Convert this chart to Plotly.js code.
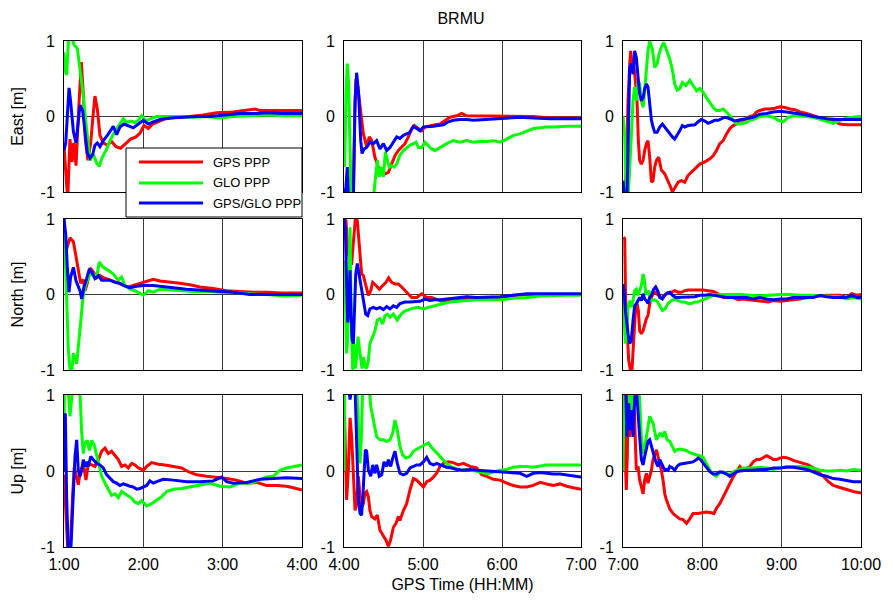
<!DOCTYPE html>
<html><head><meta charset="utf-8">
<script src="https://cdn.plot.ly/plotly-3.0.1.min.js"></script>
<style>html,body{margin:0;padding:0;background:#fff;}#chart{width:893px;height:600px;}</style>
</head><body><div id="chart"></div>
<script>
// ---- labels ----
const chartTitle = 'BRMU';
const seriesNames = ['GPS PPP', 'GLO PPP', 'GPS/GLO PPP'];
const seriesColors = ['#ff0000', '#00ff00', '#0000ff'];
const rowLabels = ['East [m]', 'North [m]', 'Up [m]'];
const xAxisLabel = 'GPS Time (HH:MM)';
const colRanges = [[60, 240], [240, 420], [420, 600]];          // minutes of day
const xTickVals = [[60, 120, 180, 240], [240, 300, 360, 420], [420, 480, 540, 600]];
const xTickText = [['1:00', '2:00', '3:00', '4:00'], ['4:00', '5:00', '6:00', '7:00'], ['7:00', '8:00', '9:00', '10:00']];
const yTickVals = [-1, 0, 1];
const yTickText = ['-1', '0', '1'];

// ---- data: time (minutes of day) and error (m) ----
// Column 1: 1:00 - 4:00
const E1_t_GPS = [60,62.8,64.5,66.1,67.3,69.1,71.1,73.1,74.6,76.1,78.1,80.2,81.9,83.4,85.2,87.2,89.7,92.8,96,99.3,102.8,106.9,110.4,114.4,117.5,120.5,123.8,127,131.3,136.4,145.2,155.3,165.3,175.4,188,198.1,204.4,208.2,220.8,230.9,240];
const E1_GPS = [-0.4,-1.1,-0.3,-0.6,-0.35,-0.65,0.1,0.72,0.3,-0.3,-0.58,-0.35,0,0.27,0.1,-0.25,-0.35,-0.38,-0.33,-0.4,-0.42,-0.36,-0.3,-0.27,-0.22,-0.12,-0.16,-0.1,-0.07,-0.03,-0.01,0,0.02,0.05,0.06,0.08,0.1,0.08,0.08,0.08,0.08];
const E1_t_GLO = [60,61,62,63.5,65.8,67.6,70.1,72.1,74.1,76.1,78.1,79.7,82.2,84.7,86.7,88.7,91.8,94.8,97.8,100.3,102.8,104.9,107.4,110.4,113.7,116.2,118.7,122,125.5,130,137.6,147.7,157.8,167.9,177.9,188,200.6,213.2,225.8,240];
const E1_GLO = [0.85,0.6,0.55,1.05,1.05,0.95,0.9,0.65,0.35,0,-0.35,-0.58,-0.5,-0.62,-0.66,-0.55,-0.45,-0.32,-0.22,-0.15,-0.08,-0.03,-0.08,-0.06,-0.08,-0.05,0.01,-0.06,-0.03,0,0,0,-0.01,0,-0.02,0,0.01,0.02,0.01,0.01];
const E1_t_GG = [60,61.3,62.5,63.8,65,67.1,69.1,70.6,72.1,74.1,75.9,77.6,79.7,81.7,83.4,85.2,87.2,89.7,92.8,95.3,97.3,99.8,102.3,105.4,108.6,112.4,116.2,120,123.8,127.5,132.6,140.1,150.2,160.3,170.4,180.5,193.1,205.7,213.2,225.8,240];
const E1_GG = [-0.45,-0.35,0,0.38,0.2,-0.2,-0.35,-0.1,0.15,0.08,-0.2,-0.48,-0.55,-0.5,-0.38,-0.35,-0.4,-0.32,-0.25,-0.18,-0.13,-0.24,-0.14,-0.1,-0.12,-0.15,-0.1,-0.05,-0.1,-0.07,-0.04,-0.02,-0.01,0,0,0.02,0.04,0.04,0.05,0.04,0.04];

const N1_t_GPS = [60,62,64.5,67.1,69.1,70.8,72.6,74.6,75.9,77.6,79.7,82.2,84.7,87.2,90.2,93.5,97.3,101.1,104.9,108.6,112.4,117.5,122.5,127.5,132.6,140.1,147.7,155.3,162.8,172.9,183,193.1,203.1,213.2,225.8,240];
const N1_GPS = [0.9,0.6,0.75,0.7,0.5,0.35,0.15,0.2,0.05,0.15,0.35,0.3,0.22,0.25,0.22,0.2,0.18,0.15,0.12,0.1,0.12,0.15,0.17,0.2,0.18,0.17,0.15,0.13,0.1,0.08,0.05,0.04,0.03,0.03,0.02,0.02];
const N1_t_GLO = [60,62,63.3,64.5,65.8,67.1,68.3,69.6,70.8,72.1,73.4,74.6,76.6,79.2,82.2,84.7,86.7,89.7,93.5,97.3,101.1,103.6,106.1,109.9,113.7,117.5,120,123.8,127.5,132.6,140.1,147.7,157.8,167.9,177.9,188,200.6,213.2,225.8,240];
const N1_GLO = [1.0,-0.08,-0.74,-0.98,-1.03,-0.78,-0.83,-0.92,-0.7,-0.43,-0.21,0,0.14,0.25,0.27,0.23,0.43,0.36,0.32,0.27,0.19,0.23,0.12,0.07,0.05,0.01,-0.01,0.05,0.03,0.07,0.06,0.05,0.04,0.04,0.03,0.03,0.01,0,-0.02,-0.01];
const N1_t_GG = [60,61.3,62.5,63.8,65,67.1,69.1,70.8,72.1,73.4,75.1,77.1,79.2,80.9,83.4,86,88.5,91,94.8,98.6,102.3,106.1,109.9,115,120,127.5,135.1,142.7,152.7,162.8,175.4,188,200.6,213.2,240];
const N1_GG = [1.0,0.8,0.36,0.03,0.23,0.36,0.18,0.1,0.05,-0.06,0.1,0.21,0.34,0.3,0.21,0.25,0.19,0.19,0.19,0.16,0.15,0.11,0.09,0.11,0.12,0.12,0.1,0.09,0.07,0.06,0.04,0.03,0,0,0];

const U1_t_GPS = [60,61,62,63,64.5,65.5,66.6,67.8,69.1,70.8,72.1,74.6,76.6,78.4,80.9,83.4,86,88.5,91,93.5,96,98.6,101.1,103.6,106.1,108.6,111.2,113.7,116.2,120,122.5,126.3,131.3,136.4,142.7,149,154,160.3,167.9,175.4,183,190.5,198.1,205.7,213.2,220.8,228.3,233.4,240];
const U1_GPS = [-0.05,-0.5,-0.8,-1.1,-1.1,-0.6,-0.3,0.05,-0.05,-0.18,-0.03,0.1,-0.12,0.1,0.08,0.06,0.15,0.26,0.3,0.23,0.26,0.21,0.15,0.06,0.08,0.04,0.1,0.08,0.04,0.01,0.06,0.11,0.09,0.08,0.06,0.04,-0.01,-0.05,-0.07,-0.08,-0.1,-0.12,-0.16,-0.15,-0.19,-0.19,-0.2,-0.22,-0.25];
const U1_t_GLO = [60,60.3,63.3,64,64.5,65.8,66.6,71.6,72.3,73.4,74.6,75.9,77.6,79.2,80.9,82.9,84.7,86.7,88.5,91,93.5,96,98.6,101.1,103.6,106.1,108.6,111.2,113.7,116.2,118.7,122.5,126.3,130.1,133.8,137.6,142.7,149,155.3,162.8,170.4,177.9,185.5,193.1,200.6,208.2,213.2,218.3,223.3,228.3,233.4,240];
const U1_GLO = [0,1.05,1.05,0.8,0.72,0.95,1.1,1.1,0.95,0.5,0.23,0.37,0.4,0.27,0.4,0.34,0.21,0.06,-0.07,-0.16,-0.25,-0.32,-0.3,-0.35,-0.27,-0.3,-0.33,-0.36,-0.41,-0.43,-0.39,-0.46,-0.43,-0.39,-0.34,-0.27,-0.24,-0.23,-0.21,-0.19,-0.16,-0.2,-0.21,-0.16,-0.16,-0.12,-0.08,-0.07,0.01,0.04,0.06,0.08];
const U1_t_GG = [60,61,62,63.3,65,66.6,68.3,69.6,70.8,72.1,73.4,74.6,75.9,77.1,78.4,80.2,82.2,84.7,87.2,89.7,92.3,94.8,97.3,99.8,102.3,104.9,107.4,109.9,112.4,115,117.5,120,122.5,125,127.5,130.1,135.1,142.7,152.7,162.8,172.9,179.2,183,188,198.1,208.2,218.3,228.3,240];
const U1_GG = [0,0.76,-0.34,-1.1,-1.1,-0.43,0.19,0.41,0.01,-0.07,0.01,0.15,0.06,0.12,0.06,0.19,0.15,0.1,0.08,0.04,-0.05,-0.1,-0.14,-0.16,-0.19,-0.17,-0.19,-0.2,-0.21,-0.24,-0.23,-0.21,-0.19,-0.13,-0.16,-0.14,-0.11,-0.12,-0.14,-0.14,-0.13,-0.08,-0.14,-0.16,-0.15,-0.11,-0.1,-0.09,-0.1];

// Column 2: 4:00 - 7:00
const E2_t_GPS = [240,247.1,248.1,249.1,250.1,252.2,254.7,257.2,259.2,261,263.5,266.1,268.6,271.1,273.7,276.2,278.7,281.3,283.8,286.3,288.9,291.4,293.4,296.5,299,301.5,305.3,309.1,312.9,316.7,320.5,325.6,329.4,333.2,338.2,345.8,358.5,371.2,383.8,396.5,409.1,420];
const E2_GPS = [-1.1,-1.1,0,0.5,0.45,0.12,-0.23,-0.4,-0.27,-0.32,-0.54,-0.67,-0.71,-0.76,-0.74,-0.63,-0.52,-0.45,-0.4,-0.36,-0.27,-0.16,-0.12,-0.16,-0.19,-0.14,-0.12,-0.11,-0.1,-0.05,-0.01,0.01,0.04,0.01,0.01,0,0,0,0,-0.02,-0.02,-0.02];
const E2_t_GLO = [240,240.5,241.5,242.5,243.5,244.6,245.3,246.6,262.3,262.8,264.3,265.3,266.8,268.6,269.9,271.4,272.9,274.4,276.2,278,280,282.5,285.1,287.6,290.1,292.7,294.7,296.5,299,301.5,304.1,306.6,309.1,312.9,318,323,328.1,333.2,338.2,343.3,348.4,353.4,358.5,363.6,368.6,373.7,378.8,383.8,388.9,393.9,399,404.1,409.1,420];
const E2_GLO = [0,-0.67,0.3,0.7,0.43,-0.23,-0.98,-1.1,-1.1,-1.0,-0.76,-0.58,-0.8,-0.67,-0.8,-0.47,-0.58,-0.67,-0.65,-0.67,-0.63,-0.51,-0.45,-0.41,-0.38,-0.36,-0.34,-0.41,-0.41,-0.34,-0.38,-0.43,-0.45,-0.41,-0.36,-0.32,-0.34,-0.32,-0.34,-0.33,-0.33,-0.32,-0.34,-0.3,-0.25,-0.23,-0.19,-0.16,-0.15,-0.14,-0.14,-0.13,-0.13,-0.13];
const E2_t_GG = [240,241.5,242.5,243.5,247.1,248.4,249.6,251.1,252.7,253.7,255.2,257.2,259.7,262.3,264.8,267.3,269.9,272.4,274.9,277.5,280,282.5,285.1,287.6,290.1,292.7,295.2,297.7,300.3,304.1,307.9,311.7,315.5,319.3,323,328.1,333.2,338.2,345.8,353.4,363.6,373.7,383.8,396.5,409.1,420];
const E2_GG = [-1.1,-0.93,-0.67,-1.1,-1.1,0.21,0.58,0.3,-0.32,-0.49,-0.43,-0.41,-0.34,-0.36,-0.32,-0.43,-0.36,-0.45,-0.41,-0.34,-0.27,-0.29,-0.25,-0.23,-0.21,-0.13,-0.16,-0.19,-0.14,-0.14,-0.13,-0.12,-0.11,-0.07,-0.05,-0.04,-0.04,-0.05,-0.04,-0.03,-0.02,-0.01,-0.02,-0.03,-0.03,-0.03];

const N2_t_GPS = [240,241.5,243,244.6,245.8,247.1,248.6,250.1,251.6,253.4,254.7,256.7,258.5,260.3,261.8,264.3,266.8,269.4,271.9,273.9,276.2,278.7,281.3,283.8,286.3,288.9,291.4,295.2,299,300.8,302.8,306.6,310.4,314.2,318,323,328.1,333.2,340.8,348.4,358.5,368.6,378.8,388.9,399,409.1,420];
const N2_GPS = [1.0,0.98,0.58,0.41,0.41,0.71,1.0,0.98,0.67,0.27,0.25,0.1,-0.01,0.05,0.16,0.12,0.07,0.12,0.16,0.22,0.16,0.14,0.14,0.1,0.05,0.01,-0.04,-0.04,0.01,-0.01,-0.04,-0.04,-0.07,-0.09,-0.08,-0.06,-0.06,-0.05,-0.06,-0.04,-0.04,-0.01,0,0,0,0,0];
const N2_t_GLO = [240,240.8,241.5,242,242.8,243.8,244.6,245.3,246.1,246.6,247.6,248.6,249.6,250.6,251.6,252.7,253.7,254.7,256,257.2,258.5,259.7,261.8,263.5,265.3,267.3,269.4,271.1,272.9,274.9,277.5,280.5,282.5,285.1,287.6,290.1,292.7,296.5,300.3,304.1,307.9,311.7,315.5,320.5,325.6,333.2,340.8,348.4,358.5,368.6,378.8,388.9,399,409.1,420];
const N2_GLO = [0,0.45,-0.43,-0.78,-0.6,0.1,0.89,-0.08,-0.83,-1.0,-0.65,-0.98,-0.83,-0.56,-0.7,-0.87,-0.98,-0.83,-0.94,-0.98,-0.87,-0.65,-0.56,-0.48,-0.34,-0.32,-0.39,-0.28,-0.26,-0.3,-0.26,-0.34,-0.28,-0.23,-0.21,-0.19,-0.18,-0.17,-0.19,-0.17,-0.15,-0.13,-0.12,-0.1,-0.09,-0.08,-0.07,-0.07,-0.07,-0.05,-0.04,-0.02,-0.01,-0.01,-0.01];
const N2_t_GG = [240,241,242,242.8,243.5,244.6,245.3,246.1,247.1,247.8,248.9,250.1,251.6,252.9,254.7,256.5,258,259.7,262.3,264.8,267.3,269.9,272.4,274.9,277.5,280,282.5,286.3,290.1,293.9,297.7,301.5,305.3,309.1,312.9,318,323,328.1,333.2,340.8,348.4,358.5,368.6,378.8,388.9,399,409.1,420];
const N2_GG = [1.0,0.89,0.14,-0.37,-0.21,0.32,-0.26,-0.6,-0.65,-0.21,0.27,0.41,0.25,0.14,-0.08,-0.26,-0.28,-0.19,-0.17,-0.19,-0.17,-0.2,-0.16,-0.19,-0.15,-0.17,-0.12,-0.1,-0.1,-0.1,-0.09,-0.06,-0.08,-0.07,-0.07,-0.06,-0.05,-0.04,-0.03,-0.04,-0.04,-0.03,-0.01,0.01,0.01,0.01,0.01,0.01];

const U2_t_GPS = [240,241,242,243.3,244.6,245.8,247.1,248.4,249.6,250.9,252.2,253.4,254.7,256,257.2,258.5,259.7,261,263.5,265.3,267.3,269.9,271.9,273.7,275.4,277.5,279.5,281.3,282.5,285.1,287.6,290.1,292.7,295.2,297.7,300.3,302.8,305.3,307.9,310.4,312.9,315.5,319.3,323,326.8,330.6,335.7,340.8,344.6,348.4,353.4,358.5,363.6,368.6,373.7,378.8,383.8,388.9,393.9,399,404.1,409.1,414.2,420];
const U2_GPS = [1.0,0.23,-0.38,0.01,0.7,0.45,-0.03,-0.52,-0.43,-0.07,-0.34,-0.47,-0.43,-0.29,-0.27,-0.34,-0.52,-0.6,-0.63,-0.58,-0.78,-0.85,-0.91,-0.99,-0.91,-0.74,-0.69,-0.6,-0.65,-0.52,-0.43,-0.25,-0.1,-0.12,-0.16,-0.21,-0.14,-0.12,-0.08,-0.03,0.06,0.1,0.12,0.11,0.08,0.1,0.06,0.04,-0.05,-0.07,-0.11,-0.12,-0.16,-0.19,-0.21,-0.21,-0.19,-0.15,-0.17,-0.19,-0.17,-0.2,-0.22,-0.24];
const U2_t_GLO = [240,240.5,249.6,250.6,251.1,252.2,253.2,254.2,259.2,260.3,262.3,264.8,267.3,269.9,272.4,274.9,277,278.7,280.5,282.5,284.6,287.1,290.1,292.7,296.5,300.3,304.1,306.6,309.1,312.9,316.7,320.5,324.3,328.1,333.2,338.2,343.3,348.4,353.4,358.5,363.6,368.6,373.7,378.8,383.8,388.9,393.9,399,404.1,409.1,420];
const U2_GLO = [0,1.1,1.1,0.8,0.45,0.1,0.45,1.1,1.1,0.85,0.67,0.45,0.41,0.41,0.39,0.41,0.5,0.67,0.54,0.32,0.21,0.17,0.19,0.26,0.3,0.34,0.37,0.31,0.26,0.19,0.12,0.06,0.04,0.01,0.02,0.01,-0.01,-0.04,-0.02,0.01,0.02,0.05,0.06,0.06,0.05,0.07,0.08,0.08,0.08,0.08,0.08];
const U2_t_GG = [240,243.3,244.6,245.8,248.4,249.6,250.9,252.2,253.4,254.7,256.2,257.2,258.5,260.3,261.8,263.5,264.8,266.8,268.6,270.4,272.4,273.7,275.4,277,278.7,280.5,282.5,285.1,287.6,290.1,292.7,295.2,297.7,300.3,302.8,305.3,307.9,310.4,312.9,315.5,318,321.8,325.6,330.6,335.7,340.8,348.4,358.5,366.1,373.7,378.8,383.8,388.9,393.9,399,404.1,409.1,414.2,420];
const U2_GG = [1.1,1.1,0.94,1.1,1.1,0.23,-0.38,-0.56,-0.58,-0.21,0.28,0.26,0.01,-0.07,0.08,-0.03,0.08,-0.07,-0.05,0.12,0.06,0.15,0.06,0.17,0.26,0.1,-0.03,-0.05,-0.03,0.04,0.06,0.08,0.08,0.12,0.18,0.1,0.08,0.1,0.08,0.06,0.05,0.04,0.02,0.01,0.02,0.01,0,-0.01,-0.02,-0.03,-0.07,-0.03,-0.02,-0.03,-0.04,-0.04,-0.05,-0.07,-0.08];

// Column 3: 7:00 - 10:00
const E3_t_GPS = [420,421.3,422.5,423.8,425.1,425.8,427.1,428.1,429.6,430.6,431.6,432.6,433.9,435.2,436.4,437.7,438.9,440.2,441.5,442.7,444,445.3,447,449,451.6,454.1,455.9,457.4,459.1,461.7,464.2,466.7,469.2,473,475.6,478.1,481.9,485.7,488.2,490.7,493.2,495.8,498.3,500.8,503.3,505.9,508.4,510.9,513.4,516,518.5,521,523.5,527.3,531.1,534.9,538.7,542.5,546.3,550,553.8,558.9,563.9,569,574,579.1,584.1,589.2,594.2,600];
const E3_GPS = [-1.1,-1.1,-0.67,0.21,0.7,0.87,0.65,0.7,0.43,0.21,-0.32,-0.58,-0.63,-0.58,-0.45,-0.36,-0.32,-0.54,-0.87,-0.85,-0.67,-0.58,-0.54,-0.71,-0.76,-0.85,-0.93,-1.0,-0.95,-0.87,-0.85,-0.87,-0.78,-0.71,-0.67,-0.63,-0.6,-0.56,-0.52,-0.45,-0.36,-0.32,-0.23,-0.16,-0.12,-0.1,-0.05,-0.05,-0.03,0,0.01,0.06,0.08,0.1,0.1,0.11,0.13,0.12,0.1,0.09,0.06,0.04,0.01,-0.02,-0.05,-0.06,-0.1,-0.11,-0.11,-0.11];
const E3_t_GLO = [420,421.3,422.5,423.8,425.1,426.3,427.6,428.8,430.1,431.4,432.6,433.9,435.2,436.4,437.7,438.9,440.2,442.2,444,445.8,447.3,449,450.8,452.8,455.4,457.4,459.1,460.9,462.9,464.9,467.5,470.5,473,475.6,478.1,480.6,483.1,485.7,488.2,490.7,493.2,495.8,498.3,500.8,503.3,505.9,508.4,510.9,513.4,516,518.5,523.5,528.6,533.6,537.4,541.2,545,548.8,553.8,558.9,563.9,569,574,579.1,584.1,589.2,594.2,600];
const E3_GLO = [0,-0.23,-1.1,-1.1,-0.67,-0.23,0.21,0.39,0.21,0.48,0.43,0.21,0.12,0.34,0.65,0.87,1.0,0.89,0.65,0.7,0.83,0.92,0.98,0.87,0.76,0.61,0.43,0.35,0.37,0.45,0.41,0.48,0.41,0.34,0.37,0.32,0.25,0.19,0.12,0.08,0.08,0.1,0.06,0.01,-0.05,-0.1,-0.1,-0.09,-0.08,-0.05,-0.04,0,0.01,-0.01,-0.05,-0.07,-0.01,0.01,0.01,0,-0.01,-0.04,-0.07,-0.09,-0.05,-0.02,-0.01,0];
const E3_t_GG = [420,421.3,423,424.3,425.1,426.3,427.6,428.8,430.1,431.4,432.6,433.9,435.2,436.4,437.7,438.9,440.2,441.5,442.7,444,445.8,447.8,449.8,451.6,453.3,455.4,457.4,459.1,460.9,462.9,464.9,466.7,469.2,471.8,474.3,476.8,479.3,481.9,484.4,486.9,489.4,492,494.5,497,499.5,502.1,504.6,507.1,510.9,514.7,518.5,523.5,528.6,533.6,538.7,543.7,548.8,553.8,558.9,563.9,569,574,581.6,589.2,600];
const E3_GG = [-0.85,-1.1,-1.1,-0.23,0.65,0.7,0.56,0.87,0.78,0.52,0.3,0.21,0.25,0.37,0.43,0.39,0.17,-0.05,-0.14,-0.21,-0.21,-0.14,-0.1,-0.14,-0.19,-0.23,-0.27,-0.3,-0.25,-0.19,-0.12,-0.14,-0.12,-0.12,-0.11,-0.07,-0.04,-0.06,-0.09,-0.07,-0.05,-0.05,-0.03,-0.01,-0.02,-0.04,-0.06,-0.05,-0.04,-0.02,-0.01,0.03,0.04,0.06,0.07,0.06,0.05,0.04,0.02,0,-0.02,-0.03,-0.04,-0.04,-0.04];

const N3_t_GPS = [420.5,421.3,422,423,424.3,425.6,426.8,428.1,429.3,430.6,431.6,432.6,433.9,435.2,436.4,437.7,438.9,440.2,441.5,442.7,444.7,446.5,449,451.6,454.1,456.6,459.1,461.7,464.2,466.7,469.2,473,476.8,480.6,484.4,488.2,492,495.8,499.5,503.3,507.1,510.9,514.7,518.5,522.3,526.1,529.8,533.6,538.7,543.7,548.8,553.8,558.9,563.9,569,574,579.1,584.1,589.2,593,596.8,600];
const N3_GPS = [0.76,0.74,-0.08,-0.52,-0.87,-1.0,-1.0,-0.6,-0.26,-0.12,-0.21,-0.48,-0.52,-0.48,-0.39,-0.32,-0.28,-0.12,-0.04,0.01,0.03,-0.01,-0.04,-0.01,0.02,0.03,0.05,0.03,0.03,0.05,0.06,0.06,0.06,0.06,0.05,0.04,0.01,-0.04,-0.04,-0.04,-0.07,-0.06,-0.07,-0.08,-0.08,-0.09,-0.1,-0.08,-0.09,-0.08,-0.07,-0.06,-0.04,-0.03,-0.01,-0.01,-0.01,-0.01,-0.04,0.01,-0.01,0];
const N3_t_GLO = [420,420.8,421.8,422.8,423.8,425.1,426.3,427.6,428.8,430.1,431.4,432.6,433.9,435.2,436.2,437.2,438.4,439.7,440.7,442.2,444,445.8,447.8,449.8,451.8,454.1,456.6,459.1,461.7,464.2,466.7,469.2,471.8,474.3,476.8,479.3,481.9,484.4,488.2,492,495.8,500.8,508.4,516,523.5,531.1,538.7,546.3,553.8,563.9,574,584.1,589.2,594.2,600];
const N3_GLO = [0,-0.3,-0.65,-0.52,-0.17,-0.08,-0.17,-0.08,0.05,0.07,-0.01,0.05,0.12,0.27,0.19,0.01,0.01,0.05,-0.08,-0.08,-0.07,-0.09,-0.16,-0.21,-0.19,-0.12,-0.08,-0.06,-0.08,-0.1,-0.1,-0.12,-0.12,-0.1,-0.1,-0.08,-0.06,-0.04,-0.01,0,0,0,0,-0.01,-0.02,-0.01,0,0,-0.01,-0.01,-0.02,-0.03,-0.06,-0.04,-0.06];
const N3_t_GG = [420,420.8,421.8,422.8,423.8,425.1,426.3,427.6,428.8,430.1,431.4,432.6,433.9,435.2,436.4,437.7,438.9,440.2,441.5,443.2,444.7,446.3,447.8,449.8,451.6,453.3,455.4,457.4,459.9,462.9,465.5,468,470.5,474.3,478.1,481.9,485.7,489.4,493.2,498.3,503.3,508.4,513.4,518.5,523.5,528.6,533.6,538.7,543.7,548.8,553.8,558.9,563.9,569,574,579.1,584.1,589.2,593,596.8,600];
const N3_GG = [0.14,0.05,-0.21,-0.39,-0.52,-0.65,-0.61,-0.34,-0.15,-0.12,-0.08,-0.04,-0.08,0.01,-0.06,-0.08,-0.12,-0.04,-0.01,0.07,0.1,0.05,-0.04,-0.06,-0.01,0.02,0.03,-0.01,-0.04,-0.04,-0.04,-0.04,-0.03,-0.03,-0.01,-0.01,0,-0.01,-0.03,-0.04,-0.04,-0.04,-0.04,-0.06,-0.04,-0.06,-0.07,-0.06,-0.06,-0.04,-0.04,-0.04,-0.04,-0.01,-0.03,-0.04,-0.04,-0.04,-0.01,-0.04,-0.04];

const U3_t_GPS = [420,421.3,422.5,423.3,424,425.1,426.3,427.6,428.8,430.1,431.4,432.6,433.9,435.2,436.4,437.7,438.9,440.2,441.5,442.7,444,445.3,446.5,447.8,449,450.3,451.6,452.8,454.1,455.4,457.9,460.4,462.9,465.5,468,470.5,473,476.8,479.3,483.1,486.9,488.7,490.7,493.2,495.8,498.3,500.8,503.3,505.9,508.4,510.9,513.4,516,518.5,521,523.5,526.1,528.6,531.1,533.6,536.2,538.7,541.7,545,548.8,552.6,556.4,560.1,563.9,567.7,571.5,575.3,579.1,582.9,586.7,590.4,594.2,600];
const U3_GPS = [1.1,0.23,-0.25,0.23,1.0,0.45,0.8,1.1,0.67,0.01,0.06,-0.12,-0.21,-0.3,-0.12,-0.03,-0.16,-0.07,0.01,0.15,0.23,0.28,0.19,0.1,0.01,-0.12,-0.3,-0.38,-0.43,-0.5,-0.56,-0.6,-0.63,-0.64,-0.69,-0.63,-0.56,-0.56,-0.55,-0.54,-0.55,-0.56,-0.49,-0.43,-0.34,-0.25,-0.16,-0.08,-0.01,0.06,0.01,0.04,0.06,0.12,0.15,0.15,0.18,0.2,0.18,0.15,0.15,0.17,0.18,0.17,0.14,0.12,0.1,0.08,0.04,-0.01,-0.07,-0.14,-0.19,-0.21,-0.23,-0.25,-0.27,-0.29];
const U3_t_GLO = [420,420.8,424.5,425.6,426.6,427.6,432.1,433.1,433.9,435.2,436.4,437.7,438.9,440.2,441.5,442.7,444,445.3,446.5,448.3,449.8,451.6,453.3,455.4,457.4,459.1,460.9,462.9,465.5,468,470.5,473,475.6,478.1,480.6,483.1,485.7,488.2,490.7,493.2,495.8,498.3,500.8,503.3,505.9,508.4,510.9,513.4,518.5,523.5,528.6,533.6,538.7,543.7,548.8,553.8,558.9,563.9,569,574,579.1,584.1,589.2,594.2,600];
const U3_GLO = [0,1.1,1.1,0.67,0.89,1.1,1.1,0.8,0.45,0.23,0.28,0.45,0.59,0.72,0.67,0.63,0.52,0.41,0.45,0.5,0.45,0.52,0.41,0.39,0.32,0.26,0.28,0.29,0.28,0.27,0.24,0.22,0.21,0.2,0.18,0.1,0.01,-0.04,-0.07,-0.02,-0.01,-0.03,-0.05,-0.01,0.01,0.02,0.04,0.04,0.04,0.05,0.04,0.02,0.04,0.06,0.06,0.06,0.05,0.04,0.01,0,0,0.01,0,0.02,0.01];
const U3_t_GG = [420,422,423,424.3,425.1,426.3,427.6,428.8,430.1,431.4,432.6,433.9,435.2,436.4,437.7,438.9,440.2,441.5,442.7,444,445.3,446.5,447.8,449,450.3,451.6,452.8,454.1,455.4,457.4,459.1,460.9,462.9,465.5,468,470.5,473,475.6,476.8,478.6,480.6,483.1,485.7,488.2,490.7,493.2,495.8,498.3,500.8,503.3,505.9,508.4,513.4,518.5,523.5,528.6,533.6,538.7,543.7,548.8,553.8,558.9,563.9,569,574,579.1,584.1,589.2,594.2,600];
const U3_GG = [1.1,1.1,0.45,0.89,0.54,0.8,0.45,0.94,1.1,0.67,0.45,0.15,0.08,0.19,0.28,0.39,0.41,0.32,0.23,0.17,0.1,0.06,0.15,0.1,0.06,0.01,0.02,0.01,0.06,0.04,0.01,0.06,0.09,0.1,0.11,0.12,0.12,0.15,0.17,0.15,0.1,0.04,-0.01,-0.04,-0.04,-0.01,-0.02,-0.04,-0.07,-0.04,-0.01,0,0.01,0.01,0.02,0.02,0.04,0.04,0.05,0.05,0.04,0.02,-0.01,-0.05,-0.07,-0.1,-0.11,-0.13,-0.14,-0.14];

// panels[row][col] = [[t,v] GPS, [t,v] GLO, [t,v] GPS/GLO]
const panels = [
  [[[E1_t_GPS,E1_GPS],[E1_t_GLO,E1_GLO],[E1_t_GG,E1_GG]],
   [[E2_t_GPS,E2_GPS],[E2_t_GLO,E2_GLO],[E2_t_GG,E2_GG]],
   [[E3_t_GPS,E3_GPS],[E3_t_GLO,E3_GLO],[E3_t_GG,E3_GG]]],
  [[[N1_t_GPS,N1_GPS],[N1_t_GLO,N1_GLO],[N1_t_GG,N1_GG]],
   [[N2_t_GPS,N2_GPS],[N2_t_GLO,N2_GLO],[N2_t_GG,N2_GG]],
   [[N3_t_GPS,N3_GPS],[N3_t_GLO,N3_GLO],[N3_t_GG,N3_GG]]],
  [[[U1_t_GPS,U1_GPS],[U1_t_GLO,U1_GLO],[U1_t_GG,U1_GG]],
   [[U2_t_GPS,U2_GPS],[U2_t_GLO,U2_GLO],[U2_t_GG,U2_GG]],
   [[U3_t_GPS,U3_GPS],[U3_t_GLO,U3_GLO],[U3_t_GG,U3_GG]]]
];

// ---- layout geometry (pixels of the 893x600 page) ----
const W = 893, H = 600;
const colPx = [[64, 302], [344, 581], [623, 861]];
const rowPx = [[41, 192], [219, 370], [395, 547]];
const FONT = 'Liberation Sans, Arial, Helvetica, sans-serif';

const traces = [];
const layout = {
  width: W, height: H,
  margin: {l: 0, r: 0, t: 0, b: 0},
  paper_bgcolor: '#fff', plot_bgcolor: '#fff',
  font: {family: FONT, size: 16, color: '#000'},
  showlegend: false,
  title: {text: chartTitle, x: 461 / W, xanchor: 'center', y: 1 - 18 / H, yanchor: 'middle', font: {size: 16, color: '#000'}},
  shapes: [], annotations: []
};

for (let r = 0; r < 3; r++) {
  for (let c = 0; c < 3; c++) {
    const k = r * 3 + c;
    const suf = k === 0 ? '' : String(k + 1);
    for (let s = 0; s < 3; s++) {
      traces.push({
        type: 'scatter', mode: 'lines',
        x: panels[r][c][s][0], y: panels[r][c][s][1],
        xaxis: 'x' + suf, yaxis: 'y' + suf,
        name: seriesNames[s], showlegend: false, hoverinfo: 'skip',
        line: {color: seriesColors[s], width: 3}
      });
    }
    const common = {
      showline: true, mirror: true, linecolor: '#000', linewidth: 1,
      showgrid: true, gridcolor: '#3c3c3c', gridwidth: 1, zeroline: false,
      ticks: '', fixedrange: true, tickfont: {size: 16, color: '#000', family: FONT}
    };
    layout['xaxis' + suf] = Object.assign({}, common, {
      domain: [colPx[c][0] / W, colPx[c][1] / W], anchor: 'y' + suf,
      range: colRanges[c], tickmode: 'array', tickvals: xTickVals[c], ticktext: xTickText[c],
      showticklabels: r === 2, ticklabelstandoff: 3
    });
    if (r === 2 && c === 1) {
      layout['xaxis' + suf].title = {text: xAxisLabel, font: {size: 16, color: '#000'}, standoff: 6};
    }
    layout['yaxis' + suf] = Object.assign({}, common, {
      domain: [1 - rowPx[r][1] / H, 1 - rowPx[r][0] / H], anchor: 'x' + suf,
      range: [-1, 1], tickmode: 'array', tickvals: yTickVals, ticktext: yTickText,
      ticklabelstandoff: 5
    });
    if (c === 0) {
      layout['yaxis' + suf].title = {text: rowLabels[r], font: {size: 16, color: '#000'}, standoff: 12};
    }
  }
}

// ---- legend box (drawn as a boxed key over the first panel) ----
const lg = {x0: 126, x1: 302, y0: 148, y1: 217, lineX0: 139, lineX1: 203, textX: 211, rows: [162, 183, 203]};
layout.shapes.push({type: 'rect', xref: 'paper', yref: 'paper', layer: 'above',
  x0: lg.x0 / W, x1: lg.x1 / W, y0: 1 - lg.y1 / H, y1: 1 - lg.y0 / H,
  fillcolor: '#fff', line: {color: '#000', width: 1}});
for (let s = 0; s < 3; s++) {
  layout.shapes.push({type: 'line', xref: 'paper', yref: 'paper', layer: 'above',
    x0: lg.lineX0 / W, x1: lg.lineX1 / W, y0: 1 - lg.rows[s] / H, y1: 1 - lg.rows[s] / H,
    line: {color: seriesColors[s], width: 3}});
  layout.annotations.push({xref: 'paper', yref: 'paper', x: lg.textX / W, y: 1 - lg.rows[s] / H,
    xanchor: 'left', yanchor: 'middle', showarrow: false, text: seriesNames[s],
    font: {size: 13, color: '#000', family: FONT}});
}

Plotly.newPlot('chart', traces, layout, {displayModeBar: false, staticPlot: true});
</script>
</body></html>
